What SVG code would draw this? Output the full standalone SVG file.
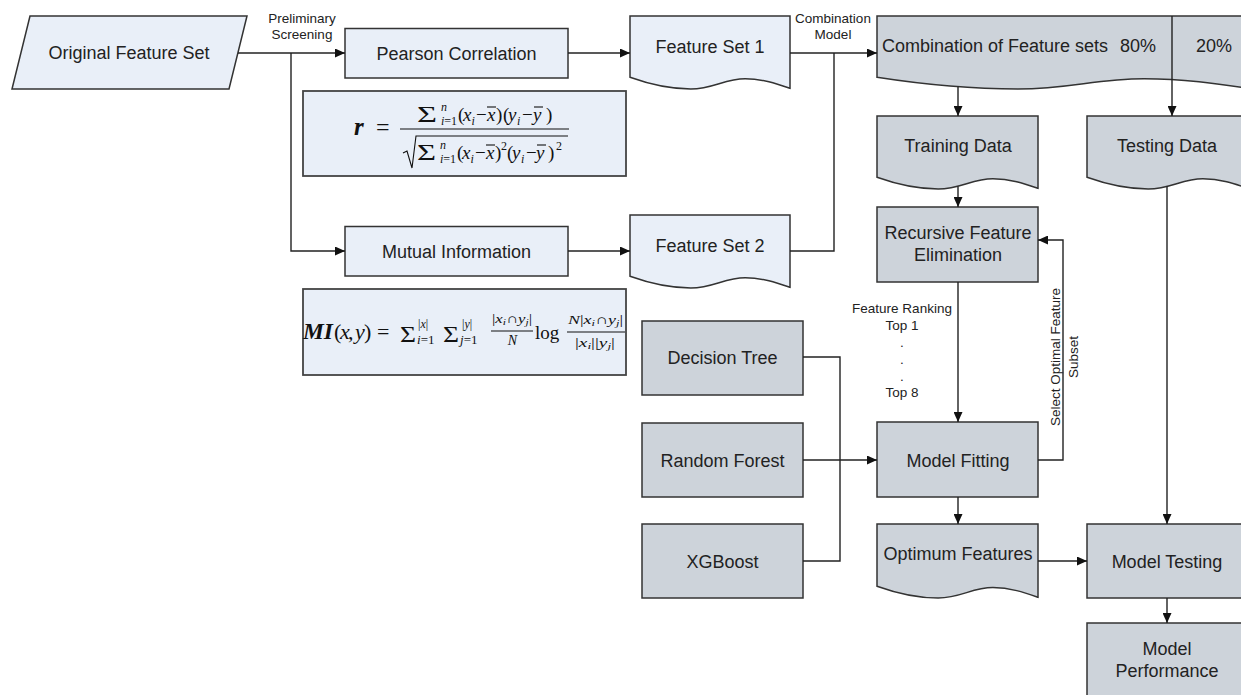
<svg xmlns="http://www.w3.org/2000/svg" width="1241" height="695" viewBox="0 0 1241 695">
<style>
.lb{fill:#e9eff8;stroke:#333;stroke-width:1.5}
.gr{fill:#cdd3da;stroke:#333;stroke-width:1.5}
.fb{fill:#e9eff8;stroke:#444;stroke-width:1.8}
.t{font-family:"Liberation Sans",Arial,sans-serif;font-size:18px;fill:#222;text-anchor:middle}
.lab{font-family:"Liberation Sans",Arial,sans-serif;font-size:13.5px;fill:#222;text-anchor:middle}
.c{fill:none;stroke:#222;stroke-width:1.4}
.m{font-family:"Liberation Serif","DejaVu Serif",serif;fill:#111}
.i{font-style:italic}
.ml{stroke:#111;stroke-width:1.1;fill:none}
</style>
<defs>
<marker id="ah" markerUnits="userSpaceOnUse" markerWidth="11" markerHeight="9" refX="10" refY="4.5" orient="auto">
<path d="M0,0 L10,4.5 L0,9 Z" fill="#111"/>
</marker>
</defs>
<rect width="1241" height="695" fill="#fff"/>

<g id="original-feature-set">
<polygon class="lb" points="30,16 247,16 229,89 12,89"/>
<text class="t" x="129" y="58.5">Original Feature Set</text>
</g>
<g id="pearson-correlation">
<rect class="lb" x="345" y="28.5" width="223" height="49.5"/>
<text class="t" x="456.5" y="59.5">Pearson Correlation</text>
</g>
<g id="pearson-formula">
<rect class="fb" x="303" y="91" width="323" height="85"/>
<text class="m i" x="354" y="135" font-size="25" font-weight="bold">r</text>
<text class="m" x="376" y="135" font-size="24">=</text>
<line class="ml" x1="400" y1="129" x2="569" y2="129"/>
<text class="m" x="417" y="122" font-size="24" textLength="20" lengthAdjust="spacingAndGlyphs">Σ</text>
<text class="m i" x="441" y="111" font-size="12">n</text>
<text class="m" x="441" y="125" font-size="12"><tspan class="i">i</tspan>=1</text>
<text class="m" y="121" font-size="19"><tspan x="458">(</tspan><tspan class="i" x="463">x</tspan><tspan class="i" x="471.5" y="125" font-size="12">i</tspan><tspan x="476" y="121">−</tspan><tspan class="i" x="487">x</tspan><tspan x="496">)</tspan><tspan x="503">(</tspan><tspan class="i" x="508">y</tspan><tspan class="i" x="517" y="125" font-size="12">i</tspan><tspan x="522" y="121">−</tspan><tspan class="i" x="533">y</tspan><tspan x="546">)</tspan></text>
<line class="ml" x1="487" y1="107" x2="496" y2="107"/>
<line class="ml" x1="534" y1="107" x2="543" y2="107"/>
<path class="ml" d="M403,153 L407,151 L412,168 L416,136 H568"/>
<text class="m" x="417" y="160" font-size="24" textLength="19" lengthAdjust="spacingAndGlyphs">Σ</text>
<text class="m i" x="440" y="149" font-size="12">n</text>
<text class="m" x="440" y="163" font-size="12"><tspan class="i">i</tspan>=1</text>
<text class="m" y="159" font-size="19"><tspan x="457">(</tspan><tspan class="i" x="462">x</tspan><tspan class="i" x="470.5" y="163" font-size="12">i</tspan><tspan x="475" y="159">−</tspan><tspan class="i" x="486">x</tspan><tspan x="495">)</tspan><tspan x="501" y="150" font-size="12">2</tspan><tspan x="507" y="159">(</tspan><tspan class="i" x="512">y</tspan><tspan class="i" x="521" y="163" font-size="12">i</tspan><tspan x="526" y="159">−</tspan><tspan class="i" x="536">y</tspan><tspan x="548">)</tspan><tspan x="556" y="150" font-size="12">2</tspan></text>
<line class="ml" x1="486" y1="145" x2="495" y2="145"/>
<line class="ml" x1="537" y1="145" x2="546" y2="145"/>
</g>
<g id="mutual-information">
<rect class="lb" x="345" y="226.5" width="223" height="49.5"/>
<text class="t" x="456.5" y="257.5">Mutual Information</text>
</g>
<g id="mi-formula">
<rect class="fb" x="303" y="289" width="323" height="86"/>
<text class="m i" x="303" y="339" font-size="23" font-weight="bold" textLength="30" lengthAdjust="spacingAndGlyphs">MI</text>
<text class="m" y="339" font-size="22"><tspan x="334">(</tspan><tspan class="i" x="340">x</tspan><tspan x="348">,</tspan><tspan class="i" x="355">y</tspan><tspan x="364">)</tspan><tspan x="377">=</tspan></text>
<text class="m" x="400" y="342" font-size="24" textLength="16" lengthAdjust="spacingAndGlyphs">Σ</text>
<text class="m" x="418" y="328" font-size="12">|<tspan class="i">x</tspan>|</text>
<text class="m" x="417" y="344" font-size="13"><tspan class="i">i</tspan>=1</text>
<text class="m" x="443" y="342" font-size="24" textLength="16" lengthAdjust="spacingAndGlyphs">Σ</text>
<text class="m" x="462" y="328" font-size="12">|<tspan class="i">y</tspan>|</text>
<text class="m" x="460" y="344" font-size="13"><tspan class="i">j</tspan>=1</text>
<text class="m" x="492" y="323" font-size="13" textLength="40" lengthAdjust="spacingAndGlyphs">|<tspan class="i">x</tspan><tspan class="i" dy="2" font-size="9">i</tspan><tspan dy="-2">∩</tspan><tspan class="i">y</tspan><tspan class="i" dy="2" font-size="9">j</tspan><tspan dy="-2">|</tspan></text>
<line class="ml" x1="491" y1="331" x2="533" y2="331"/>
<text class="m i" x="512.5" y="345" font-size="14" text-anchor="middle">N</text>
<text class="m" x="535" y="339" font-size="19">log</text>
<text class="m" x="568" y="324" font-size="13" textLength="55" lengthAdjust="spacingAndGlyphs"><tspan class="i">N</tspan>|<tspan class="i">x</tspan><tspan class="i" dy="2" font-size="9">i</tspan><tspan dy="-2">∩</tspan><tspan class="i">y</tspan><tspan class="i" dy="2" font-size="9">j</tspan><tspan dy="-2">|</tspan></text>
<line class="ml" x1="567" y1="332" x2="625" y2="332"/>
<text class="m" x="575" y="347" font-size="13" textLength="40" lengthAdjust="spacingAndGlyphs">|<tspan class="i">x</tspan><tspan class="i" dy="2" font-size="9">i</tspan><tspan dy="-2">||</tspan><tspan class="i">y</tspan><tspan class="i" dy="2" font-size="9">j</tspan><tspan dy="-2">|</tspan></text>
</g>
<g id="feature-set-1">
<path class="lb" d="M630,16 H790 V88.3 C777.2,83.9 762.8,78.8 745.2,78.8 C724.4,78.8 713.2,89 690.8,89 C671.6,89 652.4,85.35 630,77.3 Z"/>
<text class="t" x="710" y="52.5">Feature Set 1</text>
</g>
<g id="feature-set-2">
<path class="lb" d="M630,215 H790 V287.3 C777.2,282.9 762.8,277.8 745.2,277.8 C724.4,277.8 713.2,288 690.8,288 C671.6,288 652.4,284.35 630,276.3 Z"/>
<text class="t" x="710" y="251.5">Feature Set 2</text>
</g>
<g id="combination-of-feature-sets">
<path class="gr" d="M877,16 H1248 V88.3 C1218.3,83.9 1184.9,78.8 1144.1,78.8 C1095.9,78.8 1069.9,89 1018,89 C973.5,89 928.9,85.35 877,77.3 Z"/>
<text class="t" y="52"><tspan x="882" text-anchor="start">Combination of Feature sets</tspan><tspan x="1156" text-anchor="end">80%</tspan><tspan x="1214" text-anchor="middle">20%</tspan></text>
</g>
<g id="training-data">
<path class="gr" d="M877,116 H1038 V188.3 C1025.1,183.9 1010.6,178.8 992.9,178.8 C972,178.8 960.7,189 938.2,189 C918.9,189 899.5,185.35 877,177.3 Z"/>
<text class="t" x="958" y="151.5">Training Data</text>
</g>
<g id="testing-data">
<path class="gr" d="M1087,116 H1248 V188.3 C1235.1,183.9 1220.6,178.8 1202.9,178.8 C1182,178.8 1170.7,189 1148.2,189 C1128.9,189 1109.5,185.35 1087,177.3 Z"/>
<text class="t" x="1167" y="151.5">Testing Data</text>
</g>
<g id="recursive-feature-elimination">
<rect class="gr" x="877" y="207" width="161" height="75"/>
<text class="t" x="958" y="238.5">Recursive Feature</text>
<text class="t" x="958" y="260.5">Elimination</text>
</g>
<g id="model-fitting">
<rect class="gr" x="877" y="422" width="161" height="75"/>
<text class="t" x="958" y="466.5">Model Fitting</text>
</g>
<g id="decision-tree">
<rect class="gr" x="642" y="321" width="161" height="74"/>
<text class="t" x="722.5" y="363.5">Decision Tree</text>
</g>
<g id="random-forest">
<rect class="gr" x="642" y="423" width="161" height="74"/>
<text class="t" x="722.5" y="466.5">Random Forest</text>
</g>
<g id="xgboost">
<rect class="gr" x="642" y="524" width="161" height="74"/>
<text class="t" x="722.5" y="567.5">XGBoost</text>
</g>
<g id="optimum-features">
<path class="gr" d="M877,524 H1038 V597.3 C1025.1,592.8 1010.6,587.6 992.9,587.6 C972,587.6 960.7,598 938.2,598 C918.9,598 899.5,594.3 877,586.2 Z"/>
<text class="t" x="958" y="559.5">Optimum Features</text>
</g>
<g id="model-testing">
<rect class="gr" x="1087" y="524" width="161" height="74"/>
<text class="t" x="1167" y="567.5">Model Testing</text>
</g>
<g id="model-performance">
<rect class="gr" x="1087" y="623" width="161" height="74"/>
<text class="t" x="1167" y="654.5">Model</text>
<text class="t" x="1167" y="676.5">Performance</text>
</g>

<g id="connectors">
<path class="c" d="M238,53 H345" marker-end="url(#ah)"/>
<path class="c" d="M291,53 V251 H345" marker-end="url(#ah)"/>
<path class="c" d="M568,53 H630" marker-end="url(#ah)"/>
<path class="c" d="M568,251 H630" marker-end="url(#ah)"/>
<path class="c" d="M790,53 H877" marker-end="url(#ah)"/>
<path class="c" d="M790,251 H834 V53"/>
<path class="c" d="M958,86.5 V116" marker-end="url(#ah)"/>
<path class="c" d="M1172,16 V116" marker-end="url(#ah)"/>
<path class="c" d="M958,186.4 V207" marker-end="url(#ah)"/>
<path class="c" d="M958,282 V422" marker-end="url(#ah)"/>
<path class="c" d="M1038,460 H1063 V240 H1038" marker-end="url(#ah)"/>
<path class="c" d="M803,357 H840 V561 H803"/>
<path class="c" d="M803,460 H877" marker-end="url(#ah)"/>
<path class="c" d="M958,497 V524" marker-end="url(#ah)"/>
<path class="c" d="M1038,561 H1087" marker-end="url(#ah)"/>
<path class="c" d="M1167,186.3 V524" marker-end="url(#ah)"/>
<path class="c" d="M1167,598 V623" marker-end="url(#ah)"/>
<text class="lab" x="302" y="23">Preliminary</text>
<text class="lab" x="302" y="38.5">Screening</text>
<text class="lab" x="833" y="23">Combination</text>
<text class="lab" x="833" y="38.5">Model</text>
<text class="lab" x="902" y="313">Feature Ranking</text>
<text class="lab" x="902" y="330">Top 1</text>
<text class="lab" x="902" y="347">.</text>
<text class="lab" x="902" y="364">.</text>
<text class="lab" x="902" y="381">.</text>
<text class="lab" x="902" y="397">Top 8</text>
<text class="lab" transform="translate(1063,357) rotate(-90)"><tspan x="0" y="-3">Select Optimal Feature</tspan><tspan x="0" y="15">Subset</tspan></text>
</g>
</svg>
